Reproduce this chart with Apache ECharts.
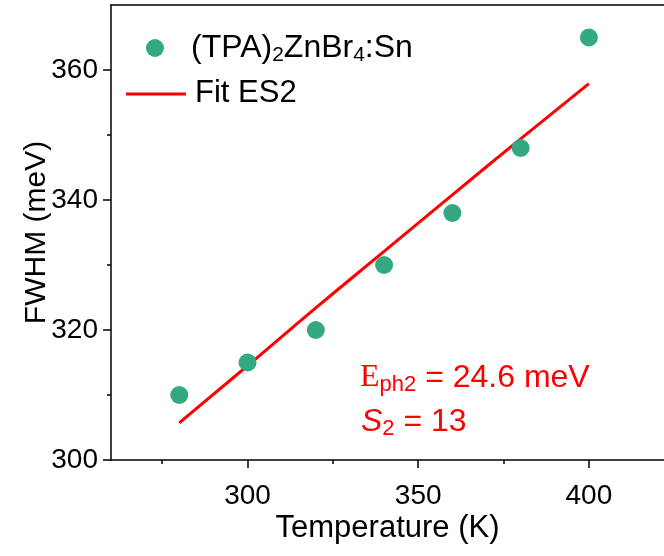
<!DOCTYPE html>
<html>
<head>
<meta charset="utf-8">
<script src="https://cdn.jsdelivr.net/npm/echarts@6/dist/echarts.min.js"></script>
<style>
html,body{margin:0;padding:0;background:#fff;}
#c{width:664px;height:556px;}
</style>
</head>
<body>
<div id="c"></div>
<script>
// Data
const temps = [280, 300, 320, 340, 360, 380, 400];
const fwhm = [310, 315, 320, 330, 338, 348, 365];
const fitTemps = [280, 300, 320, 340, 360, 380, 400];
const fitFwhm = [305.7, 314.5, 323.4, 332.1, 340.8, 349.4, 357.9];
const xMajorTicks = [300, 350, 400];
const xMinorTicks = [275, 325, 375];
const yMajorTicks = [300, 320, 340, 360];
const yMinorTicks = [310, 330, 350];

const FONT = 'Liberation Sans, Arial, sans-serif';
const SERIF = 'Liberation Serif, Times New Roman, serif';
const GREEN = '#33a883';
const RED = '#ff0000';

const xMin = 260, xMax = 422, yMin = 300, yMax = 370;
const gridRect = {left: 111, top: 5, right: 0, bottom: 96};

const chart = echarts.init(document.getElementById('c'), null, {renderer: 'canvas'});
const option = {
  backgroundColor: '#fff',
  animation: false,
  grid: [
    Object.assign({}, gridRect, {containLabel: false}),
    Object.assign({}, gridRect, {containLabel: false})
  ],
  xAxis: [
    {
      type: 'value', gridIndex: 0, position: 'bottom', min: xMin, max: xMax,
      splitLine: {show: false},
      axisLine: {show: true, onZero: false, lineStyle: {color: '#000', width: 1.5}},
      axisTick: {show: true, inside: false, length: 8, customValues: xMajorTicks, lineStyle: {color: '#000', width: 1.5}},
      axisLabel: {show: true, customValues: xMajorTicks, color: '#000', fontFamily: FONT, fontSize: 28, margin: 22},
      name: 'Temperature (K)', nameLocation: 'middle', nameGap: 53, nameMoveOverlap: false,
      nameTextStyle: {color: '#000', fontFamily: FONT, fontSize: 31}
    },
    {
      type: 'value', gridIndex: 0, position: 'top', min: xMin, max: xMax,
      splitLine: {show: false},
      axisLine: {show: true, onZero: false, lineStyle: {color: '#000', width: 1.5}},
      axisTick: {show: false}, axisLabel: {show: false}
    },
    {
      type: 'value', gridIndex: 1, position: 'bottom', min: xMin, max: xMax,
      splitLine: {show: false},
      axisLine: {show: false, onZero: false},
      axisTick: {show: true, inside: false, length: 4, customValues: xMinorTicks, lineStyle: {color: '#000', width: 1.5}},
      axisLabel: {show: false}
    }
  ],
  yAxis: [
    {
      type: 'value', gridIndex: 0, position: 'left', min: yMin, max: yMax,
      splitLine: {show: false},
      axisLine: {show: true, onZero: false, lineStyle: {color: '#000', width: 1.5}},
      axisTick: {show: true, inside: false, length: 8, customValues: yMajorTicks, lineStyle: {color: '#000', width: 1.5}},
      axisLabel: {show: true, customValues: yMajorTicks, color: '#000', fontFamily: FONT, fontSize: 28, margin: 13},
      name: 'FWHM (meV)', nameLocation: 'middle', nameGap: 59, nameRotate: 90, nameMoveOverlap: false,
      nameTextStyle: {color: '#000', fontFamily: FONT, fontSize: 30}
    },
    {
      type: 'value', gridIndex: 1, position: 'left', min: yMin, max: yMax,
      splitLine: {show: false},
      axisLine: {show: false, onZero: false},
      axisTick: {show: true, inside: false, length: 4, customValues: yMinorTicks, lineStyle: {color: '#000', width: 1.5}},
      axisLabel: {show: false}
    }
  ],
  series: [
    {
      name: 'Fit ES2', type: 'line', xAxisIndex: 0, yAxisIndex: 0,
      data: fitTemps.map((t, i) => [t, fitFwhm[i]]),
      showSymbol: false, smooth: true,
      lineStyle: {color: RED, width: 3}, z: 2
    },
    {
      name: '(TPA)2ZnBr4:Sn', type: 'scatter', xAxisIndex: 0, yAxisIndex: 0,
      data: temps.map((t, i) => [t, fwhm[i]]),
      symbol: 'circle', symbolSize: 18,
      itemStyle: {color: GREEN, opacity: 1}, z: 3
    }
  ],
  graphic: [
    {type: 'circle', shape: {cx: 155, cy: 48, r: 9}, style: {fill: GREEN}},
    {
      type: 'text', left: 191, top: 32,
      style: {
        text: '(TPA){sub|2}ZnBr{sub|4}:Sn',
        fill: '#000', font: '32px ' + FONT,
        rich: {sub: {fontSize: 21, fontFamily: FONT, fill: '#000', padding: [15, 0, 0, 0]}}
      }
    },
    {type: 'line', shape: {x1: 126, y1: 94, x2: 186, y2: 94}, style: {stroke: RED, lineWidth: 3}},
    {
      type: 'text', left: 195, top: 78,
      style: {text: 'Fit ES2', fill: '#000', font: '31px ' + FONT}
    },
    {
      type: 'text', left: 360, top: 362,
      style: {
        text: '{e|E}{sub|ph2}{n| = 24.6 meV}',
        fill: RED,
        rich: {
          e: {fontFamily: SERIF, fontSize: 32, fill: RED},
          sub: {fontFamily: FONT, fontSize: 22, fill: RED, padding: [14, 0, 0, 0]},
          n: {fontFamily: FONT, fontSize: 32, fill: RED}
        }
      }
    },
    {
      type: 'text', left: 361, top: 406,
      style: {
        text: '{s|S}{sub|2}{n| = 13}',
        fill: RED,
        rich: {
          s: {fontFamily: FONT, fontStyle: 'italic', fontSize: 32, fill: RED},
          sub: {fontFamily: FONT, fontSize: 22, fill: RED, padding: [14, 0, 0, 0]},
          n: {fontFamily: FONT, fontSize: 32, fill: RED}
        }
      }
    }
  ]
};
chart.setOption(option);
</script>
</body>
</html>
